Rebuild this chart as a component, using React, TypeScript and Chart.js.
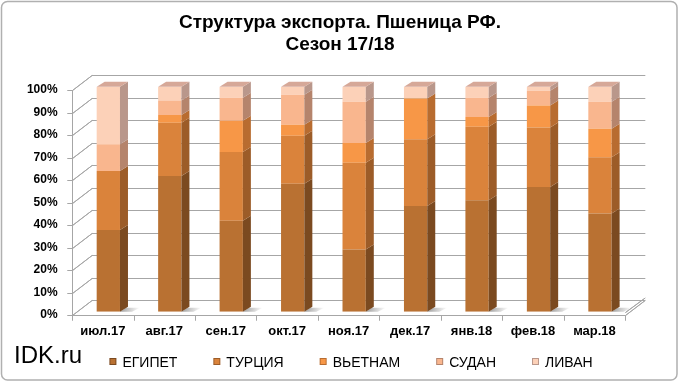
import React, { useEffect, useRef } from "react";
import { Chart, registerables } from "chart.js";

Chart.register(...registerables);

const months = ["июл.17", "авг.17", "сен.17", "окт.17", "ноя.17", "дек.17", "янв.18", "фев.18", "мар.18"];
const egypt = [36.3, 60.3, 40.4, 56.9, 27.6, 47.0, 49.5, 55.4, 43.7];
const turkey = [26.2, 23.7, 30.6, 21.3, 38.6, 29.7, 32.7, 26.5, 24.9];
const vietnam = [0, 3.4, 13.9, 4.9, 8.8, 18.1, 4.3, 9.7, 12.7];
const sudan = [11.9, 6.5, 10.2, 13.3, 18.3, 0, 8.6, 6.6, 12.0];
const lebanon = [25.6, 6.1, 4.9, 3.6, 6.7, 5.2, 4.9, 1.8, 6.7];
const seriesNames = ["ЕГИПЕТ", "ТУРЦИЯ", "ВЬЕТНАМ", "СУДАН", "ЛИВАН"];
const titleLines = ["Структура экспорта. Пшеница РФ.", "Сезон 17/18"];
const sourceLabel = "IDK.ru";

const frontColors = ["#B97132", "#DA833B", "#F79747", "#F9B68E", "#FCD1B8"];
const sideColors = ["#7B4A20", "#9C5C28", "#B86C30", "#B5846C", "#B9978B"];
const topColors = ["#A06A45", "#C08560", "#D89068", "#D8A58A", "#D6A898"];

const FONT = "'Liberation Sans', Arial, sans-serif";
const FDX = -5.5;
const FDY = 3.3;
const BDX = 14.5;
const BDY = -11.7;
const DDX = 8;
const DDY = -5;
const GRID = "#A6A6A6";

function drawGrid(ctx: CanvasRenderingContext2D, chart: any) {
  const y = chart.scales.y;
  const bars = chart.getDatasetMeta(0).data;
  const n = bars.length;
  const c0 = Number(bars[0].x);
  const c1 = Number(bars[n - 1].x);
  const cw = (c1 - c0) / (n - 1);
  const L = c0 - cw / 2;
  const R = c1 + cw / 2;
  const y0 = Number(y.getPixelForValue(0));
  const fx = Math.round(L + FDX) + 0.5;
  const fxr = Math.round(R + FDX) + 0.5;
  const fy0 = Math.round(y0 + FDY) + 0.5;

  ctx.save();
  ctx.setLineDash([]);
  ctx.globalAlpha = 1;
  ctx.globalCompositeOperation = "source-over";
  ctx.strokeStyle = GRID;
  ctx.lineWidth = 1;
  ctx.beginPath();
  ctx.moveTo(fx, fy0);
  ctx.lineTo(fxr, fy0);
  ctx.lineTo(R + BDX, y0 + BDY + 0.5);
  ctx.stroke();
  ctx.beginPath();
  ctx.moveTo(fxr, fy0 - 3);
  ctx.lineTo(R + BDX, y0 + BDY - 2);
  ctx.stroke();
  const ticks = y.ticks;
  for (let k = 0; k < ticks.length; k++) {
    const py = Number(y.getPixelForValue(ticks[k].value));
    const by = Math.round(py + BDY) + 0.5;
    const fy = Math.round(py + FDY) + 0.5;
    ctx.beginPath();
    ctx.moveTo(fx - 5, fy);
    ctx.lineTo(fx, fy);
    ctx.lineTo(L + BDX, by);
    ctx.lineTo(R + BDX, by);
    ctx.stroke();
  }
  const yTop = Math.round(Number(y.getPixelForValue(100)) + FDY) + 0.5;
  ctx.beginPath();
  ctx.moveTo(fx, yTop);
  ctx.lineTo(fx, fy0);
  ctx.stroke();
  for (let i = 0; i <= n; i++) {
    const px = Math.round(L + cw * i + FDX) + 0.5;
    ctx.beginPath();
    ctx.moveTo(px, fy0);
    ctx.lineTo(px, fy0 + 5);
    ctx.stroke();
  }
  ctx.restore();
}

function makePlugin(backRef: React.MutableRefObject<HTMLCanvasElement | null>) {
  return {
    id: "threeD",
    beforeDatasetsDraw(chart: any) {
      const ctx = chart.ctx;
      drawGrid(ctx, chart);
      ctx.save();
      const meta = chart.getDatasetMeta(0);
      meta.data.forEach((bar: any) => {
        const r = bar.x + bar.width / 2;
        const b = bar.base;
        const g = ctx.createLinearGradient(r, 0, r + 20, 0);
        g.addColorStop(0, "rgba(80,80,80,0.55)");
        g.addColorStop(1, "rgba(80,80,80,0)");
        ctx.fillStyle = g;
        ctx.beginPath();
        ctx.moveTo(r, b);
        ctx.lineTo(r + 6, b - 4);
        ctx.lineTo(r + 20, b - 4);
        ctx.lineTo(r + 12, b);
        ctx.closePath();
        ctx.fill();
      });
      ctx.restore();
    },
    afterDatasetsDraw(chart: any) {
      const ctx = chart.ctx;
      ctx.save();
      const nData = chart.data.labels.length;
      for (let i = 0; i < nData; i++) {
        let topSeg = -1;
        chart.data.datasets.forEach((ds: any, di: number) => {
          const bar: any = chart.getDatasetMeta(di).data[i];
          if (!ds.data[i]) return;
          topSeg = di;
          const r = bar.x + bar.width / 2;
          const top = Math.min(bar.y, bar.base);
          const bot = Math.max(bar.y, bar.base);
          ctx.fillStyle = sideColors[di];
          ctx.beginPath();
          ctx.moveTo(r, bot);
          ctx.lineTo(r, top);
          ctx.lineTo(r + DDX, top + DDY);
          ctx.lineTo(r + DDX, bot + DDY);
          ctx.closePath();
          ctx.fill();
        });
        if (topSeg >= 0) {
          const bar: any = chart.getDatasetMeta(topSeg).data[i];
          const l = bar.x - bar.width / 2;
          const r = bar.x + bar.width / 2;
          const top = Math.min(bar.y, bar.base);
          ctx.fillStyle = topColors[topSeg];
          ctx.beginPath();
          ctx.moveTo(l, top);
          ctx.lineTo(l + DDX, top + DDY);
          ctx.lineTo(r + DDX, top + DDY);
          ctx.lineTo(r, top);
          ctx.closePath();
          ctx.fill();
        }
      }
      ctx.restore();
    },
    afterDraw(chart: any) {
      // back layer canvas: white background and wall lines behind the chart canvas
      const back = backRef.current;
      if (back) {
        const bctx = back.getContext("2d");
        if (bctx) {
          bctx.setTransform(1, 0, 0, 1, 0, 0);
          bctx.fillStyle = "#FFFFFF";
          bctx.fillRect(0, 0, back.width, back.height);
          drawGrid(bctx, chart);
        }
      }
      const ctx = chart.ctx;
      ctx.save();
      ctx.strokeStyle = "#B0B0B0";
      ctx.lineWidth = 1.5;
      const fx0 = 1.5, fy0 = 1.5, fx1 = 677, fy1 = 380, rr = 6;
      ctx.beginPath();
      ctx.moveTo(fx0 + rr, fy0);
      ctx.lineTo(fx1 - rr, fy0);
      ctx.arcTo(fx1, fy0, fx1, fy0 + rr, rr);
      ctx.lineTo(fx1, fy1 - rr);
      ctx.arcTo(fx1, fy1, fx1 - rr, fy1, rr);
      ctx.lineTo(fx0 + rr, fy1);
      ctx.arcTo(fx0, fy1, fx0, fy1 - rr, rr);
      ctx.lineTo(fx0, fy0 + rr);
      ctx.arcTo(fx0, fy0, fx0 + rr, fy0, rr);
      ctx.closePath();
      ctx.stroke();

      ctx.fillStyle = "#000000";
      ctx.textAlign = "center";
      ctx.textBaseline = "middle";
      ctx.font = `bold 19px ${FONT}`;
      ctx.fillText(titleLines[0], 340, 23);
      ctx.fillText(titleLines[1], 340, 45);
      ctx.textAlign = "left";
      ctx.textBaseline = "alphabetic";
      ctx.font = `24px ${FONT}`;
      ctx.fillText(sourceLabel, 14, 363);
      ctx.font = `14px ${FONT}`;
      ctx.textBaseline = "middle";
      const ly = 362;
      const widths = chart.data.datasets.map((ds: any) => ctx.measureText(ds.label).width + 13);
      const gap = 36;
      const total = widths.reduce((a: number, b: number) => a + b, 0) + gap * (widths.length - 1);
      let lx = 351 - total / 2;
      chart.data.datasets.forEach((ds: any, di: number) => {
        ctx.fillStyle = sideColors[di];
        ctx.fillRect(lx, ly - 4, 7, 7);
        ctx.fillStyle = frontColors[di];
        ctx.fillRect(lx + 1, ly - 3, 5, 5);
        ctx.fillStyle = "#000000";
        ctx.fillText(ds.label, lx + 13, ly + 1);
        lx += widths[di] + gap;
      });
      ctx.restore();
    },
  };
}

export default function App() {
  const ref = useRef<HTMLCanvasElement | null>(null);
  const backRef = useRef<HTMLCanvasElement | null>(null);
  useEffect(() => {
    document.body.style.margin = "0";
    if (!ref.current) return;
    const series = [egypt, turkey, vietnam, sudan, lebanon];
    const chart = new Chart(ref.current, {
      type: "bar",
      data: {
        labels: months,
        datasets: series.map((d, i) => ({
          label: seriesNames[i],
          data: d,
          backgroundColor: frontColors[i],
          borderWidth: 0,
          barPercentage: 0.379,
          categoryPercentage: 1,
        })),
      },
      options: {
        responsive: false,
        animation: false,
        devicePixelRatio: 1,
        layout: { padding: { left: 0, right: 49.3, top: 86.7, bottom: 0 } },
        plugins: { legend: { display: false }, title: { display: false }, tooltip: { enabled: false } },
        scales: {
          x: {
            stacked: true,
            grid: { display: false, drawTicks: false },
            border: { display: false },
            ticks: {
              color: "#000000",
              font: { family: FONT, size: 13, weight: "bold" },
              padding: 12,
              labelOffset: -5.5,
              maxRotation: 0,
              autoSkip: false,
            },
            afterFit: (s: any) => {
              s.height = 72.3;
            },
          },
          y: {
            stacked: true,
            min: 0,
            max: 100,
            grid: { display: false, drawTicks: false },
            border: { display: false },
            ticks: {
              stepSize: 10,
              color: "#000000",
              font: { family: FONT, size: 12, weight: "bold" },
              padding: 20,
              labelOffset: 3.3,
              callback: (v: any) => `${v}%`,
            },
            afterFit: (s: any) => {
              s.width = 77.6;
            },
          },
        },
      },
      plugins: [makePlugin(backRef)],
    });
    return () => chart.destroy();
  }, []);
  return (
    <div style={{ position: "relative", width: 680, height: 384, background: "#FFFFFF" }}>
      <canvas ref={backRef} width={680} height={384} style={{ position: "absolute", left: 0, top: 0, display: "block" }} />
      <canvas ref={ref} width={680} height={384} style={{ position: "absolute", left: 0, top: 0, display: "block" }} />
    </div>
  );
}
